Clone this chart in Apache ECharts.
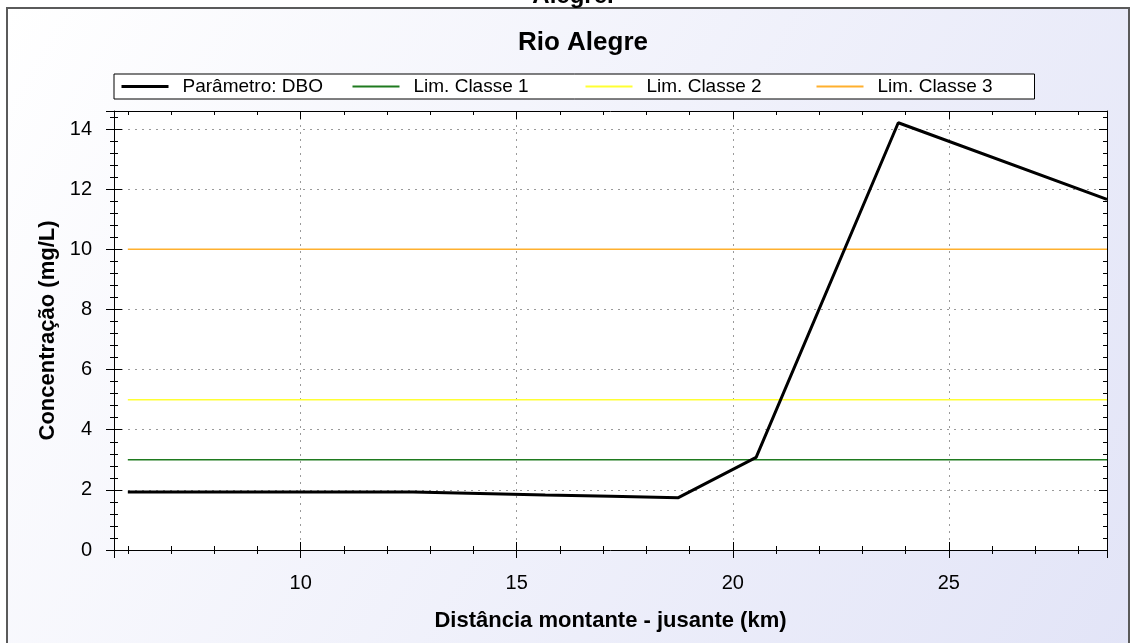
<!DOCTYPE html>
<html>
<head>
<meta charset="utf-8">
<title>Rio Alegre</title>
<script src="https://cdn.jsdelivr.net/npm/echarts@6/dist/echarts.min.js"></script>
<style>
  html, body { margin: 0; padding: 0; background: #fff; }
  #chart { width: 1136px; height: 643px; }
</style>
</head>
<body>
<div id="chart"></div>
<script>
// distancia montante - jusante (km) e DBO (mg/L)
const distancia = [6.0, 12.6, 12.6, 14.14, 14.14, 15.66, 15.66, 17.18, 17.18, 18.74, 20.54, 23.83, 28.66]
const dbo = [1.93, 1.93, 1.88, 1.88, 1.83, 1.83, 1.79, 1.79, 1.74, 1.74, 3.08, 14.21, 11.66]

// limites das classes (mg/L)
const limNomes = ['Lim. Classe 1', 'Lim. Classe 2', 'Lim. Classe 3']
const limValores = [3, 5, 10]
const limCores = ['#1f7a1f', '#ffff33', '#ffb02e']

const xMin = 5.68
const xMax = 28.66
const yMin = 0
const yMax = 14.6

const font = '"Liberation Sans", Arial, sans-serif'

const chart = echarts.init(document.getElementById('chart'))

// eixo auxiliar so para desenhar os tracinhos (dentro/fora)
function tickAxis(position, inside, showLine) {
  const vertical = position === 'left' || position === 'right'
  return {
    type: 'value',
    position: position,
    min: vertical ? yMin : xMin,
    max: vertical ? yMax : xMax,
    interval: vertical ? 2 : undefined,
    axisLine: { show: showLine, onZero: false, lineStyle: { color: '#000', width: 1 } },
    axisTick: { show: true, inside: inside, length: 8, lineStyle: { color: '#000', width: 1 } },
    minorTick: { show: true, splitNumber: 5, length: 4, lineStyle: { color: '#000', width: 1 } },
    axisLabel: { show: false },
    splitLine: { show: false }
  }
}

const series = [{
  name: 'Parâmetro: DBO',
  type: 'line',
  xAxisIndex: 0,
  yAxisIndex: 0,
  symbol: 'none',
  z: 5,
  color: '#000',
  lineStyle: { color: '#000', width: 3 },
  data: distancia.map((d, i) => [d, dbo[i]])
}]
limNomes.forEach((nome, i) => {
  series.push({
    name: nome,
    type: 'line',
    xAxisIndex: 0,
    yAxisIndex: 0,
    symbol: 'none',
    z: 3,
    color: limCores[i],
    lineStyle: { color: limCores[i], width: 1.5 },
    data: [[distancia[0], limValores[i]], [xMax, limValores[i]]]
  })
})

const legendNomes = ['Parâmetro: DBO'].concat(limNomes)

chart.setOption({
  animation: false,
  textStyle: { fontFamily: font },
  graphic: [
    {
      type: 'rect',
      z: -10,
      shape: { x: 7, y: 8, width: 1122, height: 660 },
      style: {
        fill: new echarts.graphic.LinearGradient(0, 0, 1, 1, [
          { offset: 0, color: '#ffffff' },
          { offset: 1, color: '#e2e4f7' }
        ]),
        stroke: '#5a5a5a',
        lineWidth: 2
      }
    },
    {
      type: 'text',
      z: -5,
      x: 573,
      y: 8,
      style: {
        text: 'Alegre.',
        font: 'bold 24px ' + font,
        fill: '#000',
        align: 'center',
        verticalAlign: 'bottom'
      }
    }
  ],
  title: {
    text: 'Rio Alegre',
    left: 578,
    textAlign: 'center',
    top: 25,
    textStyle: { fontFamily: font, fontSize: 26, fontWeight: 'bold', color: '#000' }
  },
  legend: {
    left: 114,
    top: 74,
    padding: [3, 6, 3, 6],
    backgroundColor: '#fff',
    borderColor: '#000',
    borderWidth: 1,
    borderRadius: 0,
    itemWidth: 47,
    itemHeight: 14,
    itemGap: 0,
    itemStyle: { opacity: 0 },
    data: legendNomes.map((n, i) => (i === 0 ? { name: n, lineStyle: { width: 3 } } : { name: n })),
    formatter: function (name) {
      return '{c' + legendNomes.indexOf(name) + '|' + name + '}'
    },
    textStyle: {
      fontFamily: font,
      fontSize: 19,
      color: '#000',
      rich: {
        c0: { fontFamily: font, fontSize: 19, color: '#000', width: 169, padding: [0, 0, 0, 9], lineHeight: 19 },
        c1: { fontFamily: font, fontSize: 19, color: '#000', width: 171, padding: [0, 0, 0, 9], lineHeight: 19 },
        c2: { fontFamily: font, fontSize: 19, color: '#000', width: 169, padding: [0, 0, 0, 9], lineHeight: 19 },
        c3: { fontFamily: font, fontSize: 19, color: '#000', width: 151, padding: [0, 0, 0, 9], lineHeight: 19 }
      }
    }
  },
  grid: {
    left: 114,
    right: 29,
    top: 111,
    bottom: 93,
    show: true,
    backgroundColor: '#fff',
    borderWidth: 0
  },
  xAxis: [
    {
      type: 'value',
      position: 'bottom',
      min: xMin,
      max: xMax,
      name: 'Distância montante - jusante (km)',
      nameLocation: 'middle',
      nameGap: 60,
      nameTextStyle: { fontFamily: font, fontSize: 22, fontWeight: 'bold', color: '#000' },
      axisLine: { show: true, onZero: false, lineStyle: { color: '#000', width: 1 } },
      axisTick: { show: true, length: 8, lineStyle: { color: '#000', width: 1 } },
      minorTick: { show: true, splitNumber: 5, length: 4, lineStyle: { color: '#000', width: 1 } },
      axisLabel: { fontFamily: font, fontSize: 20, color: '#000', margin: 23, showMinLabel: false, showMaxLabel: false },
      splitLine: { show: true, showMinLine: false, showMaxLine: false, lineStyle: { color: '#9a9a9a', type: [2, 5], width: 1 } }
    },
    tickAxis('bottom', true, false),
    tickAxis('top', true, true)
  ],
  yAxis: [
    {
      type: 'value',
      position: 'left',
      min: yMin,
      max: yMax,
      interval: 2,
      name: 'Concentração (mg/L)',
      nameLocation: 'middle',
      nameGap: 55,
      nameTextStyle: { fontFamily: font, fontSize: 22, fontWeight: 'bold', color: '#000' },
      axisLine: { show: true, onZero: false, lineStyle: { color: '#000', width: 1 } },
      axisTick: { show: true, length: 8, lineStyle: { color: '#000', width: 1 } },
      minorTick: { show: true, splitNumber: 5, length: 4, lineStyle: { color: '#000', width: 1 } },
      axisLabel: { fontFamily: font, fontSize: 20, color: '#000', margin: 22, showMaxLabel: false },
      splitLine: { show: true, showMinLine: false, showMaxLine: false, lineStyle: { color: '#9a9a9a', type: [2, 5], width: 1 } }
    },
    tickAxis('left', true, false),
    tickAxis('right', true, true)
  ],
  series: series
})
</script>
</body>
</html>
